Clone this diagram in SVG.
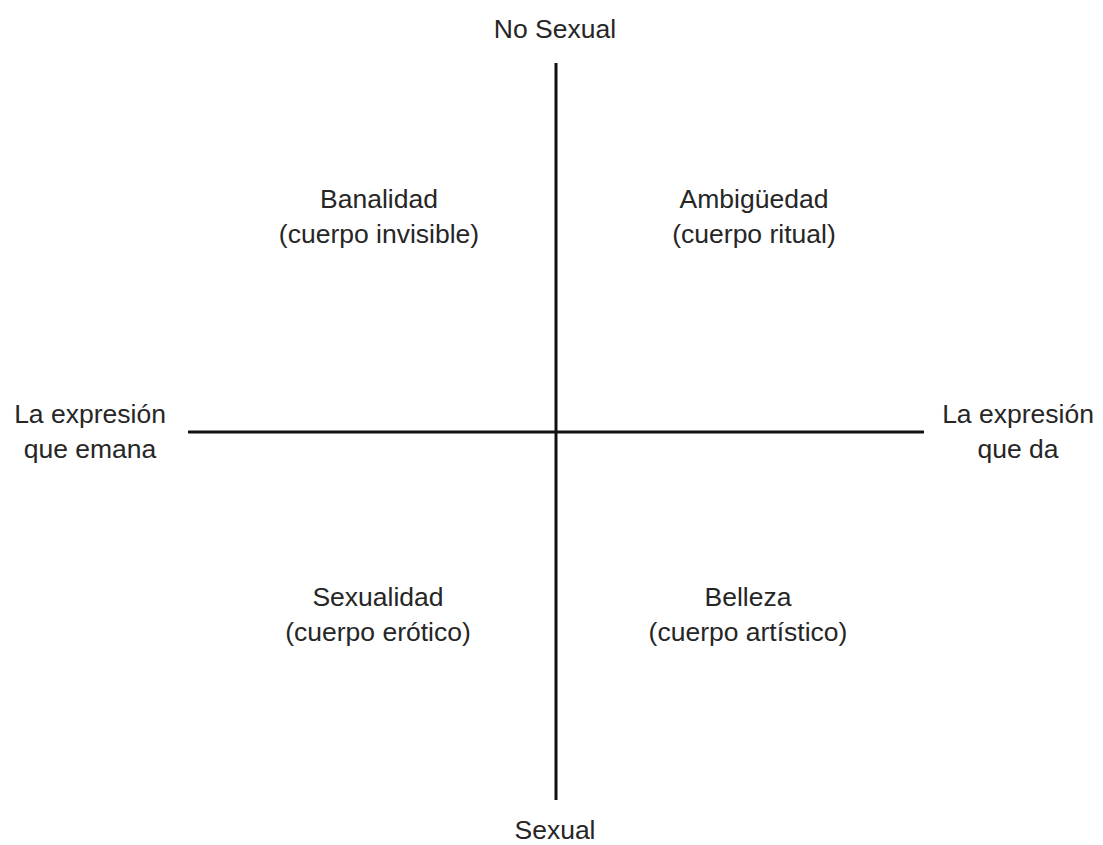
<svg xmlns="http://www.w3.org/2000/svg" width="1103" height="845" viewBox="0 0 1103 845">
<style>
text{font-family:"Liberation Sans",Arial,sans-serif;font-size:26.5px;fill:#262626;text-anchor:middle}
.ax{stroke:#111;stroke-width:3;fill:none}
</style>
<rect width="1103" height="845" fill="#fff"/>
<g id="connectors">
<line class="ax" x1="556" y1="63" x2="556" y2="800"/>
<line class="ax" x1="188" y1="432" x2="924" y2="432"/>
</g>
<g id="top"><text x="555" y="38">No Sexual</text></g>
<g id="bottom"><text x="555" y="839">Sexual</text></g>
<g id="left"><text x="90" y="423">La expresión</text><text x="90" y="458">que emana</text></g>
<g id="right"><text x="1018" y="423">La expresión</text><text x="1018" y="458">que da</text></g>
<g id="q1"><text x="379" y="208">Banalidad</text><text x="379" y="243">(cuerpo invisible)</text></g>
<g id="q2"><text x="754" y="208">Ambigüedad</text><text x="754" y="243">(cuerpo ritual)</text></g>
<g id="q3"><text x="378" y="606">Sexualidad</text><text x="378" y="641">(cuerpo erótico)</text></g>
<g id="q4"><text x="748" y="606">Belleza</text><text x="748" y="641">(cuerpo artístico)</text></g>
</svg>
